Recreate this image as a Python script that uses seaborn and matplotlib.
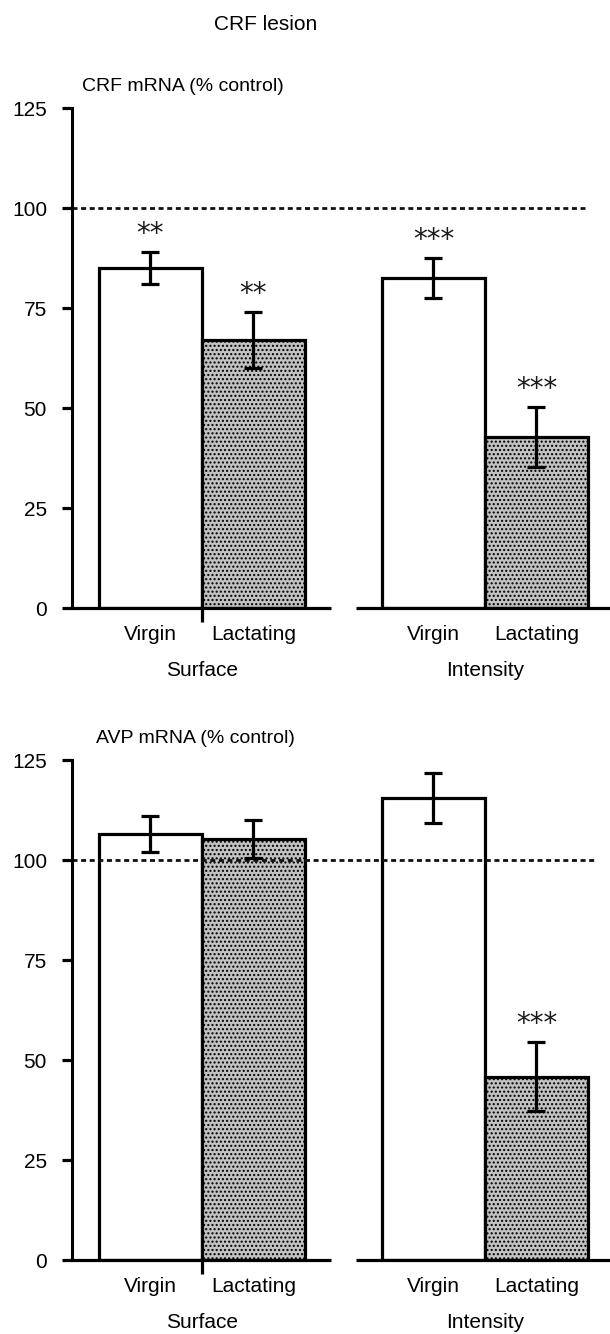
import numpy as np
import pandas as pd
import matplotlib
matplotlib.use('Agg')
import matplotlib.pyplot as plt
import seaborn as sns

# ---- data (% of control) ----
measures = ['Surface', 'Intensity']
groups = ['Virgin', 'Lactating']

crf_virgin = [85, 82.5]
crf_virgin_err = [4, 5]
crf_lact = [67, 42.75]
crf_lact_err = [7, 7.5]
crf_virgin_sig = ['**', '***']
crf_lact_sig = ['**', '***']

avp_virgin = [106.5, 115.5]
avp_virgin_err = [4.6, 6.2]
avp_lact = [105.25, 45.8]
avp_lact_err = [4.7, 8.6]
avp_virgin_sig = ['', '']
avp_lact_sig = ['', '***']

yticks = [0, 25, 50, 75, 100, 125]

sns.set_style('ticks')
plt.rcParams['font.family'] = ['Liberation Sans', 'DejaVu Sans']
plt.rcParams['hatch.linewidth'] = 1.0
plt.rcParams['axes.linewidth'] = 2.2
plt.rcParams['text.color'] = 'black'
plt.rcParams['xtick.color'] = 'black'
plt.rcParams['ytick.color'] = 'black'
plt.rcParams['axes.edgecolor'] = 'black'

LW = 2.3
FS = 15


def make_df(v, ve, l, le, vs, ls):
    rows = []
    for i, m in enumerate(measures):
        rows.append(dict(measure=m, group='Virgin', value=v[i], err=ve[i], sig=vs[i]))
        rows.append(dict(measure=m, group='Lactating', value=l[i], err=le[i], sig=ls[i]))
    return pd.DataFrame(rows)


def draw_panel(ax, df, title, title_x, ref_end):
    sns.barplot(data=df, x='measure', y='value', hue='group', order=measures,
                hue_order=groups, palette={'Virgin': 'white', 'Lactating': '#c2c2c2'},
                saturation=1, width=0.728, gap=0, edgecolor='black', linewidth=LW,
                errorbar=None, legend=False, ax=ax)

    centers, labels = [], []
    for gi, (g, cont) in enumerate(zip(groups, ax.containers)):
        sub = df[df['group'] == g].set_index('measure').loc[measures]
        for mi, bar in enumerate(cont):
            cx = bar.get_x() + bar.get_width() / 2
            if g == 'Lactating':
                bar.set_hatch('....')
            ax.errorbar(cx, sub['value'].iloc[mi], yerr=sub['err'].iloc[mi],
                        fmt='none', ecolor='black', elinewidth=LW, capsize=6.8,
                        capthick=LW, zorder=5)
            s = sub['sig'].iloc[mi]
            if s:
                ax.text(cx, sub['value'].iloc[mi] + sub['err'].iloc[mi] + 2.5, s,
                        ha='center', va='baseline', fontsize=20,
                        family=['DejaVu Sans'], color='#1a1a1a')
            centers.append(cx)
            labels.append(g)

    ax.set_xlim(-0.459, 1.442)
    ax.set_ylim(0, 125)
    ax.set_yticks(yticks)
    ax.set_yticklabels([str(t) for t in yticks], fontsize=FS)
    ax.set_xticks(centers)
    ax.set_xticklabels(labels, fontsize=FS)
    ax.tick_params(axis='x', length=0, pad=12)
    ax.tick_params(axis='y', length=7, width=LW, pad=11, direction='out')
    ax.set_xlabel('')
    ax.set_ylabel('')

    for side in ['top', 'right', 'bottom']:
        ax.spines[side].set_visible(False)

    # broken x-axis under the two groups
    ax.axhline(0, xmin=0, xmax=0.481, color='black', lw=LW, clip_on=False,
               solid_capstyle='butt')
    ax.axhline(0, xmin=0.528, xmax=1, color='black', lw=LW, clip_on=False,
               solid_capstyle='butt')
    # small separator tick between Surface bars
    ax.plot([0, 0], [0, -3.5], color='black', lw=LW, clip_on=False,
            solid_capstyle='butt')

    # control level
    ax.axhline(100, xmin=0, xmax=ref_end, color='#111111', lw=2.0,
               linestyle=(0, (1.8, 1.3)), zorder=1)

    trans = ax.get_xaxis_transform()
    for mi, m in enumerate(measures):
        ax.text(mi, -0.124, m, transform=trans, ha='center', va='center',
                fontsize=FS)

    ax.text(title_x, 1.043, title, transform=ax.transAxes, ha='left',
            va='center', fontsize=14)


fig = plt.figure(figsize=(6.1, 13.34), dpi=100)
W, H = 610, 1334
ax1 = fig.add_axes([72 / W, (H - 608) / H, 538 / W, 500 / H])
ax2 = fig.add_axes([72 / W, (H - 1260) / H, 538 / W, 500 / H])

crf = make_df(crf_virgin, crf_virgin_err, crf_lact, crf_lact_err,
              crf_virgin_sig, crf_lact_sig)
avp = make_df(avp_virgin, avp_virgin_err, avp_lact, avp_lact_err,
              avp_virgin_sig, avp_lact_sig)

draw_panel(ax1, crf, 'CRF mRNA (% control)', 0.019, 0.953)
draw_panel(ax2, avp, 'AVP mRNA (% control)', 0.045, 0.976)

fig.text(266 / W, 1 - 24 / H, 'CRF lesion', ha='center', va='center', fontsize=FS)

fig.savefig('out.png', dpi=100)
